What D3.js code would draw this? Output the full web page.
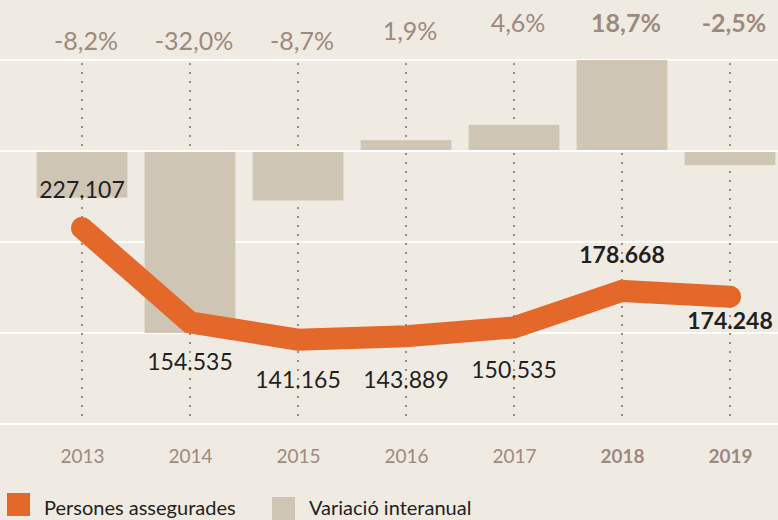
<!DOCTYPE html>
<html>
<head>
<meta charset="utf-8">
<script src="https://cdn.jsdelivr.net/npm/d3@7"></script>
<style>
  body { margin: 0; background: #f0ebe2; }
  svg { display: block; font-family: Lato, "Open Sans", sans-serif; }
</style>
</head>
<body>
<div class="layout"></div>
<script>
// data
var years = ["2013", "2014", "2015", "2016", "2017", "2018", "2019"];
var insured = [227107, 154535, 141165, 143889, 150535, 178668, 174248];
var variation = [-8.2, -32.0, -8.7, 1.9, 4.6, 18.7, -2.5];
var boldYears = ["2018", "2019"];

// label nudges (layout only)
var valueLabelDy = [-30, 48, 48, 52, 50, -28, 32];
var pctLabelRaise = [10, 10, 10, 20, 28, 28, 28];

var width = 778, height = 520;

var fmtInt = function(v) { return d3.format(",")(v).replace(/,/g, "."); };
var fmtPct = function(v) { return d3.format(".1f")(v).replace(".", ",").replace("\u2212", "-") + "%"; };

var svg = d3.select(".layout").append("svg")
    .attr("width", width)
    .attr("height", height);

svg.append("rect")
    .attr("width", width)
    .attr("height", height)
    .attr("fill", "#f0ebe2");

var x = d3.scalePoint()
    .domain(years)
    .range([82, 730]);

var barW = x.step() * 0.84;

// bars: variation %, the 2018 bar is capped at the top line
var yPct = d3.scaleLinear()
    .domain([-32, 16])
    .range([333, 60])
    .clamp(true);

// line: insured persons
var yVal = d3.scaleLinear()
    .domain([120000, 240000])
    .range([367.2, 211.2]);

// white horizontal lines
var grid = d3.scaleLinear().domain([0, 4]).range([60, 424]);
svg.append("g")
    .selectAll("line")
    .data(d3.range(5))
    .enter().append("line")
        .attr("x1", 0)
        .attr("x2", width)
        .attr("y1", function(d) { return Math.round(grid(d)); })
        .attr("y2", function(d) { return Math.round(grid(d)); })
        .attr("stroke", "#ffffff")
        .attr("stroke-width", 2);

// dotted verticals
svg.append("g")
    .selectAll("line")
    .data(years)
    .enter().append("line")
        .attr("x1", function(d) { return x(d); })
        .attr("x2", function(d) { return x(d); })
        .attr("y1", grid(0) + 3)
        .attr("y2", grid(4) - 1)
        .attr("stroke", "#9d8b80")
        .attr("stroke-width", 2)
        .attr("stroke-dasharray", "2 7");

// bars
var zero = yPct(0);
svg.append("g")
    .selectAll("rect")
    .data(variation)
    .enter().append("rect")
        .attr("x", function(d, i) { return x(years[i]) - barW / 2; })
        .attr("width", barW)
        .attr("y", function(d) { return d >= 0 ? yPct(d) : zero + 1; })
        .attr("height", function(d) { return d >= 0 ? zero - 1 - yPct(d) : yPct(d) - zero - 1; })
        .attr("fill", "#cfc5b5");

// line
var line = d3.line()
    .x(function(d, i) { return x(years[i]); })
    .y(function(d) { return yVal(d); });

svg.append("path")
    .datum(insured)
    .attr("d", line)
    .attr("fill", "none")
    .attr("stroke", "#e5682b")
    .attr("stroke-width", 22)
    .attr("stroke-linecap", "round")
    .attr("stroke-linejoin", "miter");

// value labels
svg.append("g")
    .selectAll("text")
    .data(insured)
    .enter().append("text")
        .attr("x", function(d, i) { return x(years[i]); })
        .attr("y", function(d, i) { return yVal(d) + valueLabelDy[i]; })
        .attr("text-anchor", "middle")
        .attr("font-size", 23)
        .attr("font-weight", function(d, i) { return boldYears.indexOf(years[i]) >= 0 ? 700 : 400; })
        .attr("fill", "#231f20")
        .text(fmtInt);

// percentage labels
svg.append("g")
    .selectAll("text")
    .data(variation)
    .enter().append("text")
        .attr("x", function(d, i) { return x(years[i]) + 4; })
        .attr("y", function(d, i) { return grid(0) - pctLabelRaise[i]; })
        .attr("text-anchor", "middle")
        .attr("font-size", 25)
        .attr("font-weight", function(d, i) { return boldYears.indexOf(years[i]) >= 0 ? 700 : 400; })
        .attr("fill", "#9c8a7f")
        .text(fmtPct);

// year axis
var xAxis = d3.axisBottom(x).tickSize(0).tickPadding(0);
var gx = svg.append("g")
    .attr("transform", "translate(0," + 449 + ")")
    .call(xAxis);
gx.select(".domain").remove();
gx.selectAll("text")
    .attr("dy", "0.72em")
    .attr("font-family", "Lato, sans-serif")
    .attr("font-size", 19)
    .attr("font-weight", function(d) { return boldYears.indexOf(d) >= 0 ? 700 : 400; })
    .attr("fill", "#9c8a7f");

// legend
var legend = [
    { label: "Persones assegurades", color: "#e5682b", x: 7, y: 493 },
    { label: "Variació interanual", color: "#cfc5b5", x: 272, y: 497 }
];
var lg = svg.append("g")
    .selectAll("g")
    .data(legend)
    .enter().append("g")
        .attr("transform", function(d) { return "translate(" + d.x + "," + d.y + ")"; });
lg.append("rect")
    .attr("width", 23)
    .attr("height", 23)
    .attr("fill", function(d) { return d.color; });
lg.append("text")
    .attr("x", 37)
    .attr("y", function(d) { return 515 - d.y; })
    .attr("font-size", 20)
    .attr("fill", "#231f20")
    .text(function(d) { return d.label; });
</script>
</body>
</html>
